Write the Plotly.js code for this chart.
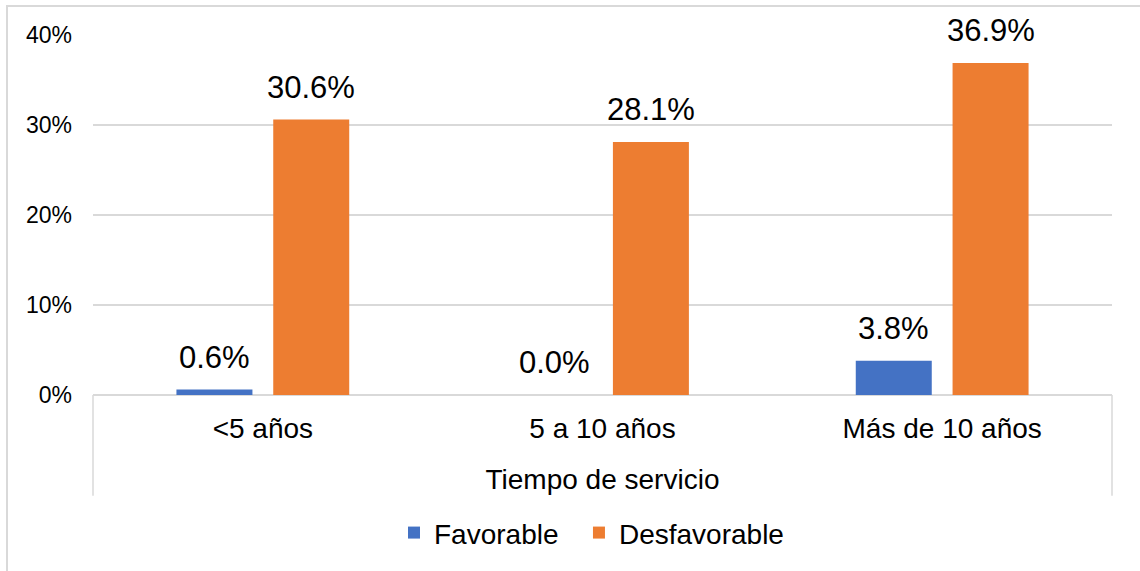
<!DOCTYPE html>
<html>
<head>
<meta charset="utf-8">
<script src="https://cdn.plot.ly/plotly-3.0.1.min.js"></script>
<style>html,body{margin:0;padding:0;background:#fff;}#chart{width:1140px;height:571px;}</style>
</head>
<body>
<div id="chart"></div>
<script>
const categories = ["<5 años", "5 a 10 años", "Más de 10 años"];
const favorable = [0.6, 0.0, 3.8];
const desfavorable = [30.6, 28.1, 36.9];
const seriesNames = ["Favorable", "Desfavorable"];
const yTicks = [0, 10, 20, 30, 40];
const yTickLabels = ["0%", "10%", "20%", "30%", "40%"];
const xTitle = "Tiempo de servicio";

const FONT = '"Liberation Sans", Arial, sans-serif';
const GRID = '#D9D9D9';

const traces = [
  {type: 'bar', name: seriesNames[0], x: categories, y: favorable, marker: {color: '#4472C4'}, hoverinfo: 'none', legend: 'legend'},
  {type: 'bar', name: seriesNames[1], x: categories, y: desfavorable, marker: {color: '#ED7D31'}, hoverinfo: 'none', legend: 'legend2'}
];

const slotShift = 48.4;
const annotations = [];
[favorable, desfavorable].forEach((arr, t) => {
  arr.forEach((v, i) => {
    annotations.push({
      x: categories[i], y: v, xref: 'x', yref: 'y',
      text: v.toFixed(1) + '%', showarrow: false,
      xanchor: 'center', yanchor: 'bottom',
      xshift: t === 0 ? -slotShift : slotShift, yshift: 13,
      font: {family: FONT, size: 31, color: '#000'}
    });
  });
});

const legendFont = {family: FONT, size: 28, color: '#000'};

const layout = {
  width: 1140, height: 571,
  margin: {l: 93, r: 28, t: 35, b: 176},
  paper_bgcolor: '#fff', plot_bgcolor: '#fff',
  barmode: 'group', bargap: 0.43, bargroupgap: 0.215,
  font: {family: FONT, color: '#000'},
  xaxis: {
    type: 'category', showgrid: false, zeroline: false, showline: false,
    ticks: '', tickfont: {family: FONT, size: 28, color: '#000'},
    ticklabelstandoff: 14,
    title: {text: xTitle, font: {family: FONT, size: 28, color: '#000'}, standoff: 26},
    fixedrange: true
  },
  yaxis: {
    range: [0, 40], tickmode: 'array', tickvals: yTicks, ticktext: yTickLabels,
    showgrid: true, gridcolor: GRID, gridwidth: 1.5,
    zeroline: true, zerolinecolor: GRID, zerolinewidth: 1.5,
    showline: false, ticks: '', ticklabelstandoff: 20,
    tickfont: {family: FONT, size: 23, color: '#000'},
    fixedrange: true
  },
  showlegend: true,
  legend: {
    orientation: 'h', x: 0.2954, xanchor: 'left', y: -0.383, yanchor: 'middle',
    font: legendFont, itemwidth: 30
  },
  legend2: {
    orientation: 'h', x: 0.4769, xanchor: 'left', y: -0.383, yanchor: 'middle',
    font: legendFont, itemwidth: 30
  },
  shapes: [
    {type: 'line', xref: 'paper', yref: 'paper', x0: 0, x1: 0, y0: 0, y1: -0.28, line: {color: GRID, width: 1.5}},
    {type: 'line', xref: 'paper', yref: 'paper', x0: 1, x1: 1, y0: 0, y1: -0.28, line: {color: GRID, width: 1.5}},
    {type: 'rect', xref: 'paper', yref: 'paper', x0: -0.0844, x1: 1.1, y0: -0.6, y1: 1.0806, line: {color: GRID, width: 2}, layer: 'below'}
  ],
  annotations: annotations
};

Plotly.newPlot('chart', traces, layout, {displayModeBar: false, staticPlot: true});
</script>
</body>
</html>
